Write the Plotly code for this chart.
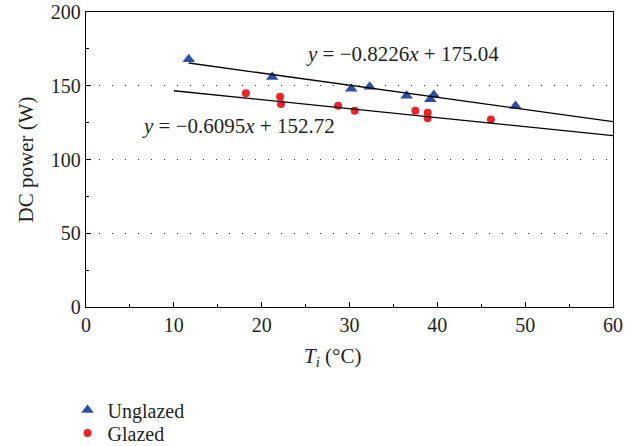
import plotly.graph_objects as go

# Data
unglazed_x = [11.7, 21.2, 30.2, 32.3, 36.5, 39.6, 39.2, 48.9]
unglazed_y = [168.0, 156.0, 148.0, 149.4, 143.2, 143.7, 140.8, 136.3]
glazed_x = [18.2, 22.1, 22.2, 28.7, 30.6, 37.5, 38.9, 38.9, 46.1]
glazed_y = [144.9, 142.6, 137.6, 136.5, 133.1, 133.1, 131.7, 127.9, 127.2]

# Linear fits (slope, intercept, x-range of fitted line)
fit_unglazed = [-0.8226, 175.04]
fit_unglazed_x = [11.7, 60]
fit_glazed = [-0.6095, 152.72]
fit_glazed_x = [10, 60]

x_ticks = [0, 10, 20, 30, 40, 50, 60]
y_ticks = [0, 50, 100, 150, 200]

FONT = "Liberation Serif"
TXT = "#231f20"
BLUE = "#2d4ea2"
RED = "#ec2328"

fig = go.Figure()

fig.add_trace(go.Scatter(
    x=unglazed_x, y=unglazed_y, mode="markers", name="Unglazed",
    legend="legend",
    marker=dict(symbol="triangle-up", size=11, color=BLUE,
                line=dict(width=0))))
fig.add_trace(go.Scatter(
    x=glazed_x, y=glazed_y, mode="markers", name="Glazed",
    legend="legend2",
    marker=dict(symbol="circle", size=8, color=RED, line=dict(width=0))))

for (m, b), xr in [(fit_unglazed, fit_unglazed_x), (fit_glazed, fit_glazed_x)]:
    fig.add_trace(go.Scatter(
        x=xr, y=[m * v + b for v in xr], mode="lines", showlegend=False,
        line=dict(color="black", width=1.3), hoverinfo="skip"))

fig.add_annotation(x=36.0, y=171.5, xref="x", yref="y", showarrow=False,
                   text="<i>y</i> = −0.8226<i>x</i> + 175.04",
                   font=dict(family=FONT, size=21, color=TXT))
fig.add_annotation(x=17.4, y=122.7, xref="x", yref="y", showarrow=False,
                   text="<i>y</i> = −0.6095<i>x</i> + 152.72",
                   font=dict(family=FONT, size=21, color=TXT))
fig.add_annotation(x=0.467, y=-0.17, xref="paper", yref="paper",
                   showarrow=False, yanchor="middle",
                   text="<i>T<sub>i</sub></i> (°C)",
                   font=dict(family=FONT, size=21, color=TXT))
fig.add_annotation(x=-0.114, y=0.5, xref="paper", yref="paper",
                   showarrow=False, xanchor="center", yanchor="middle",
                   textangle=-90, text="DC power (W)",
                   font=dict(family=FONT, size=21, color=TXT))

leg_common = dict(xref="paper", yref="container", xanchor="left",
                  yanchor="middle", x=-0.035,
                  font=dict(family=FONT, size=20, color=TXT),
                  bgcolor="rgba(0,0,0,0)", itemwidth=30)

fig.update_layout(
    width=637, height=446,
    margin=dict(l=86, r=24, t=12, b=139),
    paper_bgcolor="white", plot_bgcolor="white",
    font=dict(family=FONT, size=20, color=TXT),
    showlegend=True,
    legend=dict(y=1 - 410 / 446, **leg_common),
    legend2=dict(y=1 - 433 / 446, **leg_common),
)

fig.update_xaxes(
    range=[0, 60], tickvals=x_ticks, ticktext=[str(v) for v in x_ticks],
    showline=True, linecolor="black", linewidth=1.3, mirror=True,
    ticks="inside", ticklen=5, tickcolor="black", tickwidth=1.3,
    minor=dict(dtick=5, ticks="inside", ticklen=3, tickcolor="black", tickwidth=1),
    showgrid=False, zeroline=False, automargin=False,
    tickfont=dict(family=FONT, size=20, color=TXT))
fig.update_yaxes(
    range=[0, 200], tickvals=y_ticks, ticktext=[str(v) for v in y_ticks],
    showline=True, linecolor="black", linewidth=1.3, mirror=True,
    ticks="inside", ticklen=5, tickcolor="black", tickwidth=1.3,
    minor=dict(dtick=25, ticks="inside", ticklen=3, tickcolor="black", tickwidth=1),
    showgrid=True, gridcolor="#333333", gridwidth=1, griddash="1px,12px",
    zeroline=False, automargin=False,
    tickfont=dict(family=FONT, size=20, color=TXT))

fig.write_html("out.html")
